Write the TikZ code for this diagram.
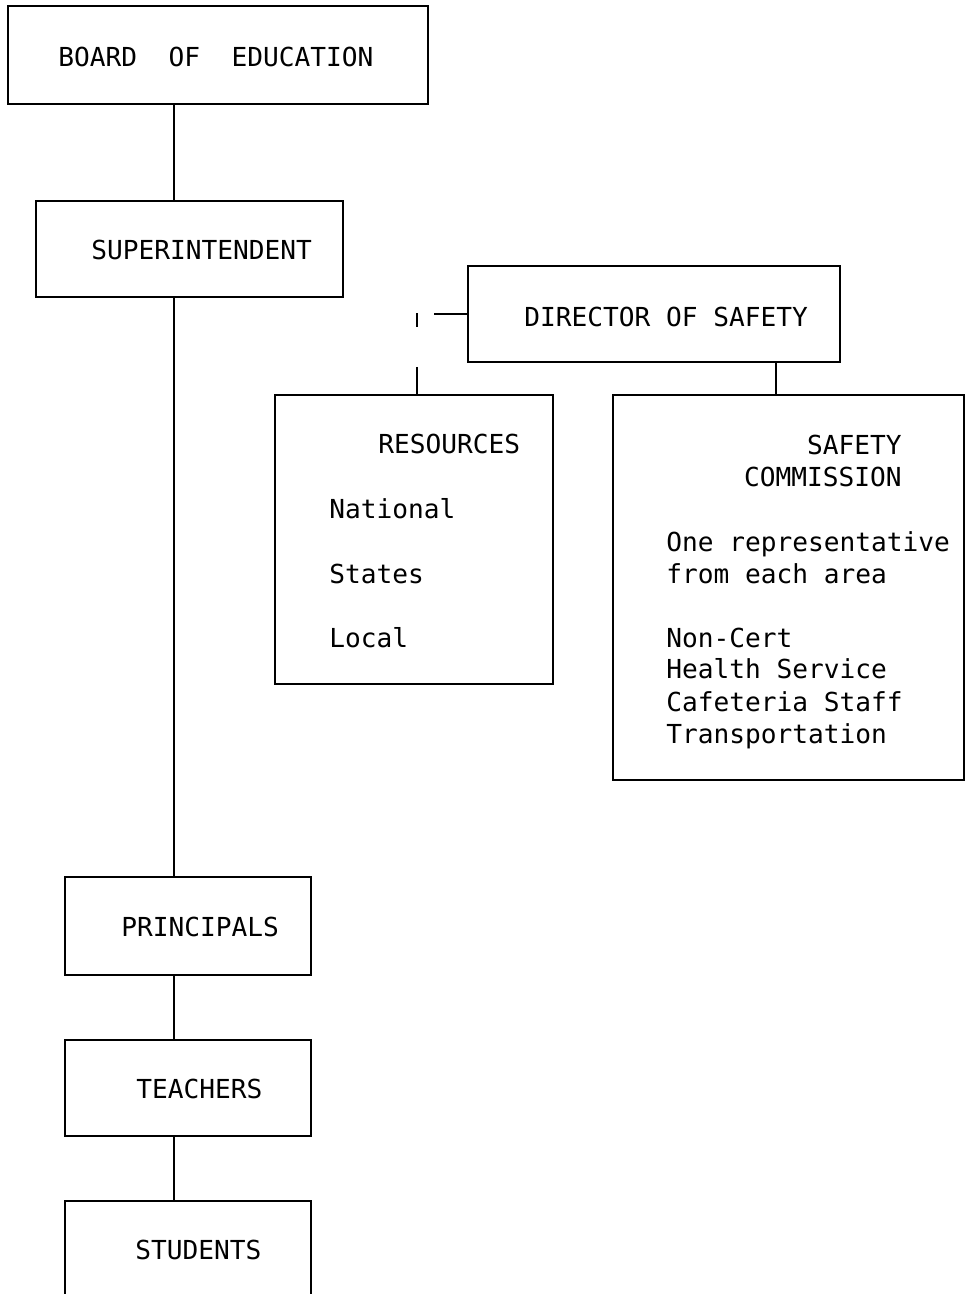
\documentclass[tikz,border=0pt]{standalone}
\usepackage{fontspec}
\newfontfamily\printfont{DejaVu Sans Mono}
\usepackage{tikz}
\usetikzlibrary{positioning}

\begin{document}
\begin{tikzpicture}[x=0.02cm,y=-0.02cm,line width=1.5pt,
    orgbox/.style={draw,rectangle,inner sep=0pt},
    orgtext/.style={inner sep=0pt,font={\printfont\fontsize{14.9}{18}\selectfont}},
    ]
 \useasboundingbox (0,0) rectangle (971,1294);
 \clip (0,0) rectangle (971,1294);
 \coordinate (spine) at (174,0);

 % boxes
 \node[orgbox,minimum width=8.4cm,minimum height=1.96cm] (board) at (218,55) {};
 \node[orgbox,minimum width=6.14cm,minimum height=1.92cm] (supt) at (189.5,249) {};
 \node[orgbox,minimum width=7.44cm,minimum height=1.92cm] (dir) at (654,314) {};
 \node[orgbox,minimum width=5.56cm,minimum height=5.78cm] (res) at (414,539.5) {};
 \node[orgbox,minimum width=7.02cm,minimum height=7.7cm] (comm) at (788.5,587.5) {};
 \node[orgbox,minimum width=4.92cm,minimum height=1.96cm] (prin) at (188,926) {};
 \node[orgbox,minimum width=4.92cm,minimum height=1.92cm] (teach) at (188,1088) {};
 \node[orgbox,minimum width=4.92cm,minimum height=2.58cm] (stud) at (188,1265.5) {};

 % titles
 \node[orgtext,anchor=base west] (boardtxt) at (57,67) {BOARD~~OF~~EDUCATION};
 \node[orgtext,anchor=base west] (supttxt) at (90,259) {SUPERINTENDENT};
 \node[orgtext,anchor=base west] (dirtxt) at (523,326) {DIRECTOR OF SAFETY};
 \node[orgtext,anchor=base west] (restxt) at (377,453) {RESOURCES};
 \node[orgtext,anchor=base east] (commtxt) at (903,454) {SAFETY};
 \node[orgtext,anchor=base east] (commtxtb) at (903,486) {COMMISSION};
 \node[orgtext,anchor=base west] (printxt) at (120,936) {PRINCIPALS};
 \node[orgtext,anchor=base west] (teachtxt) at (135,1098) {TEACHERS};
 \node[orgtext,anchor=base west] (studtxt) at (134,1259) {STUDENTS};

 % lists
 \foreach \y/\t [count=\i] in {518/National,583/States,647/Local}
   \node[orgtext,anchor=base west] (reslist\i) at (328,\y) {\t};
 \foreach \y/\t [count=\i] in {551/One representative,583/from each area,647/Non-Cert,
     678/Health Service,711/Cafeteria Staff,743/Transportation}
   \node[orgtext,anchor=base west] (commlist\i) at (665,\y) {\t};

 % connectors
 \draw (board.south -| spine) -- (supt.north -| spine);
 \draw (supt.south -| spine) -- (prin.north -| spine);
 \draw (prin.south -| spine) -- (teach.north -| spine);
 \draw (teach.south -| spine) -- (stud.north -| spine);
 \coordinate (dirstub) at (434,314);
 \draw (dirstub) -- (dir.west);
 \coordinate (resstub) at (417,313);
 \draw[dash pattern=on 0.28cm off 0.8cm on 0.56cm] (resstub) -- (res.north -| resstub);
 \draw (dir.south -| 776,0) -- (comm.north -| 776,0);
\end{tikzpicture}
\end{document}
